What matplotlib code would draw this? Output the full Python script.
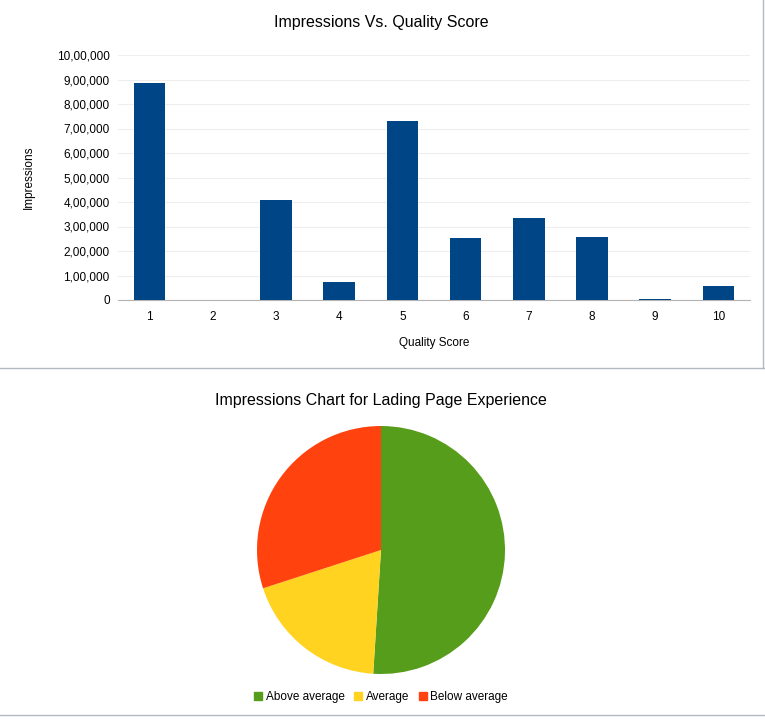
import matplotlib.pyplot as plt
from matplotlib.ticker import FuncFormatter

# bar chart data
scores = ["1", "2", "3", "4", "5", "6", "7", "8", "9", "10"]
impressions = [885000, 0, 408000, 73000, 731000, 253000, 335000, 257000, 3000, 57000]

# pie chart data
pie_labels = ["Above average", "Average", "Below average"]
pie_values = [51, 19, 30]
pie_colors = ["#579d1c", "#ffd320", "#ff420e"]


def indian(v, pos=None):
    v = int(round(v))
    s = str(v)
    if len(s) <= 3:
        return s
    head, tail = s[:-3], s[-3:]
    parts = []
    while len(head) > 2:
        parts.insert(0, head[-2:])
        head = head[:-2]
    parts.insert(0, head)
    return ",".join(parts) + "," + tail


fig = plt.figure(figsize=(7.65, 7.21), dpi=100)
plt.rcParams["font.family"] = "Liberation Sans"

# chart frames
fig.add_artist(plt.Line2D([0, 1], [1 - 368 / 721] * 2, color="#b0b8c4", lw=1))
fig.add_artist(plt.Line2D([0.998, 0.998], [1 - 368 / 721, 1], color="#b0b8c4", lw=1))
fig.add_artist(plt.Line2D([0, 1], [1 - 715 / 721] * 2, color="#b0b8c4", lw=1))

ax = fig.add_axes([118 / 765, 1 - 300 / 721, 632 / 765, 245 / 721])
x = range(len(scores))
ax.bar(x, impressions, width=0.5, color="#004586", zorder=3)
ax.set_xticks(list(x))
ax.set_xticklabels(scores, fontsize=8.5)
ax.set_xlim(-0.5, len(scores) - 0.5)
ax.set_ylim(0, 1000000)
ax.set_yticks(range(0, 1000001, 100000))
ax.yaxis.set_major_formatter(FuncFormatter(indian))
ax.tick_params(axis="y", labelsize=8.5, length=0, pad=6)
ax.tick_params(axis="x", length=0, pad=8)
ax.grid(axis="y", color="#eeeeee", lw=0.8, zorder=0)
for s in ["top", "right", "left"]:
    ax.spines[s].set_visible(False)
ax.spines["bottom"].set_color("#b3b3b3")
ax.set_xlabel("Quality Score", fontsize=8.5, labelpad=10)
ax.set_ylabel("Impressions", fontsize=8.5, labelpad=16)
fig.text(381 / 765, 1 - 22 / 721, "Impressions Vs. Quality Score", ha="center", va="center", fontsize=11.5)

# pie chart
r = 124
pax = fig.add_axes([(381 - r) / 765, 1 - (550 + r) / 721, 2 * r / 765, 2 * r / 721])
pax.pie(pie_values, colors=pie_colors, startangle=90, counterclock=False,
        wedgeprops=dict(linewidth=0))
pax.set_xlim(-1, 1)
pax.set_ylim(-1, 1)
pax.set_aspect("auto")
fig.text(381 / 765, 1 - 401 / 721, "Impressions Chart for Lading Page Experience",
         ha="center", va="center", fontsize=11.5)
handles = [plt.Rectangle((0, 0), 1, 1, color=c) for c in pie_colors]
fig.legend(handles, pie_labels, loc="center", bbox_to_anchor=(381 / 765, 1 - 697 / 721),
           ncol=3, frameon=False, fontsize=8.5, handlelength=0.7, handleheight=0.7,
           handletextpad=0.3, columnspacing=0.8)

fig.savefig("out.png")
